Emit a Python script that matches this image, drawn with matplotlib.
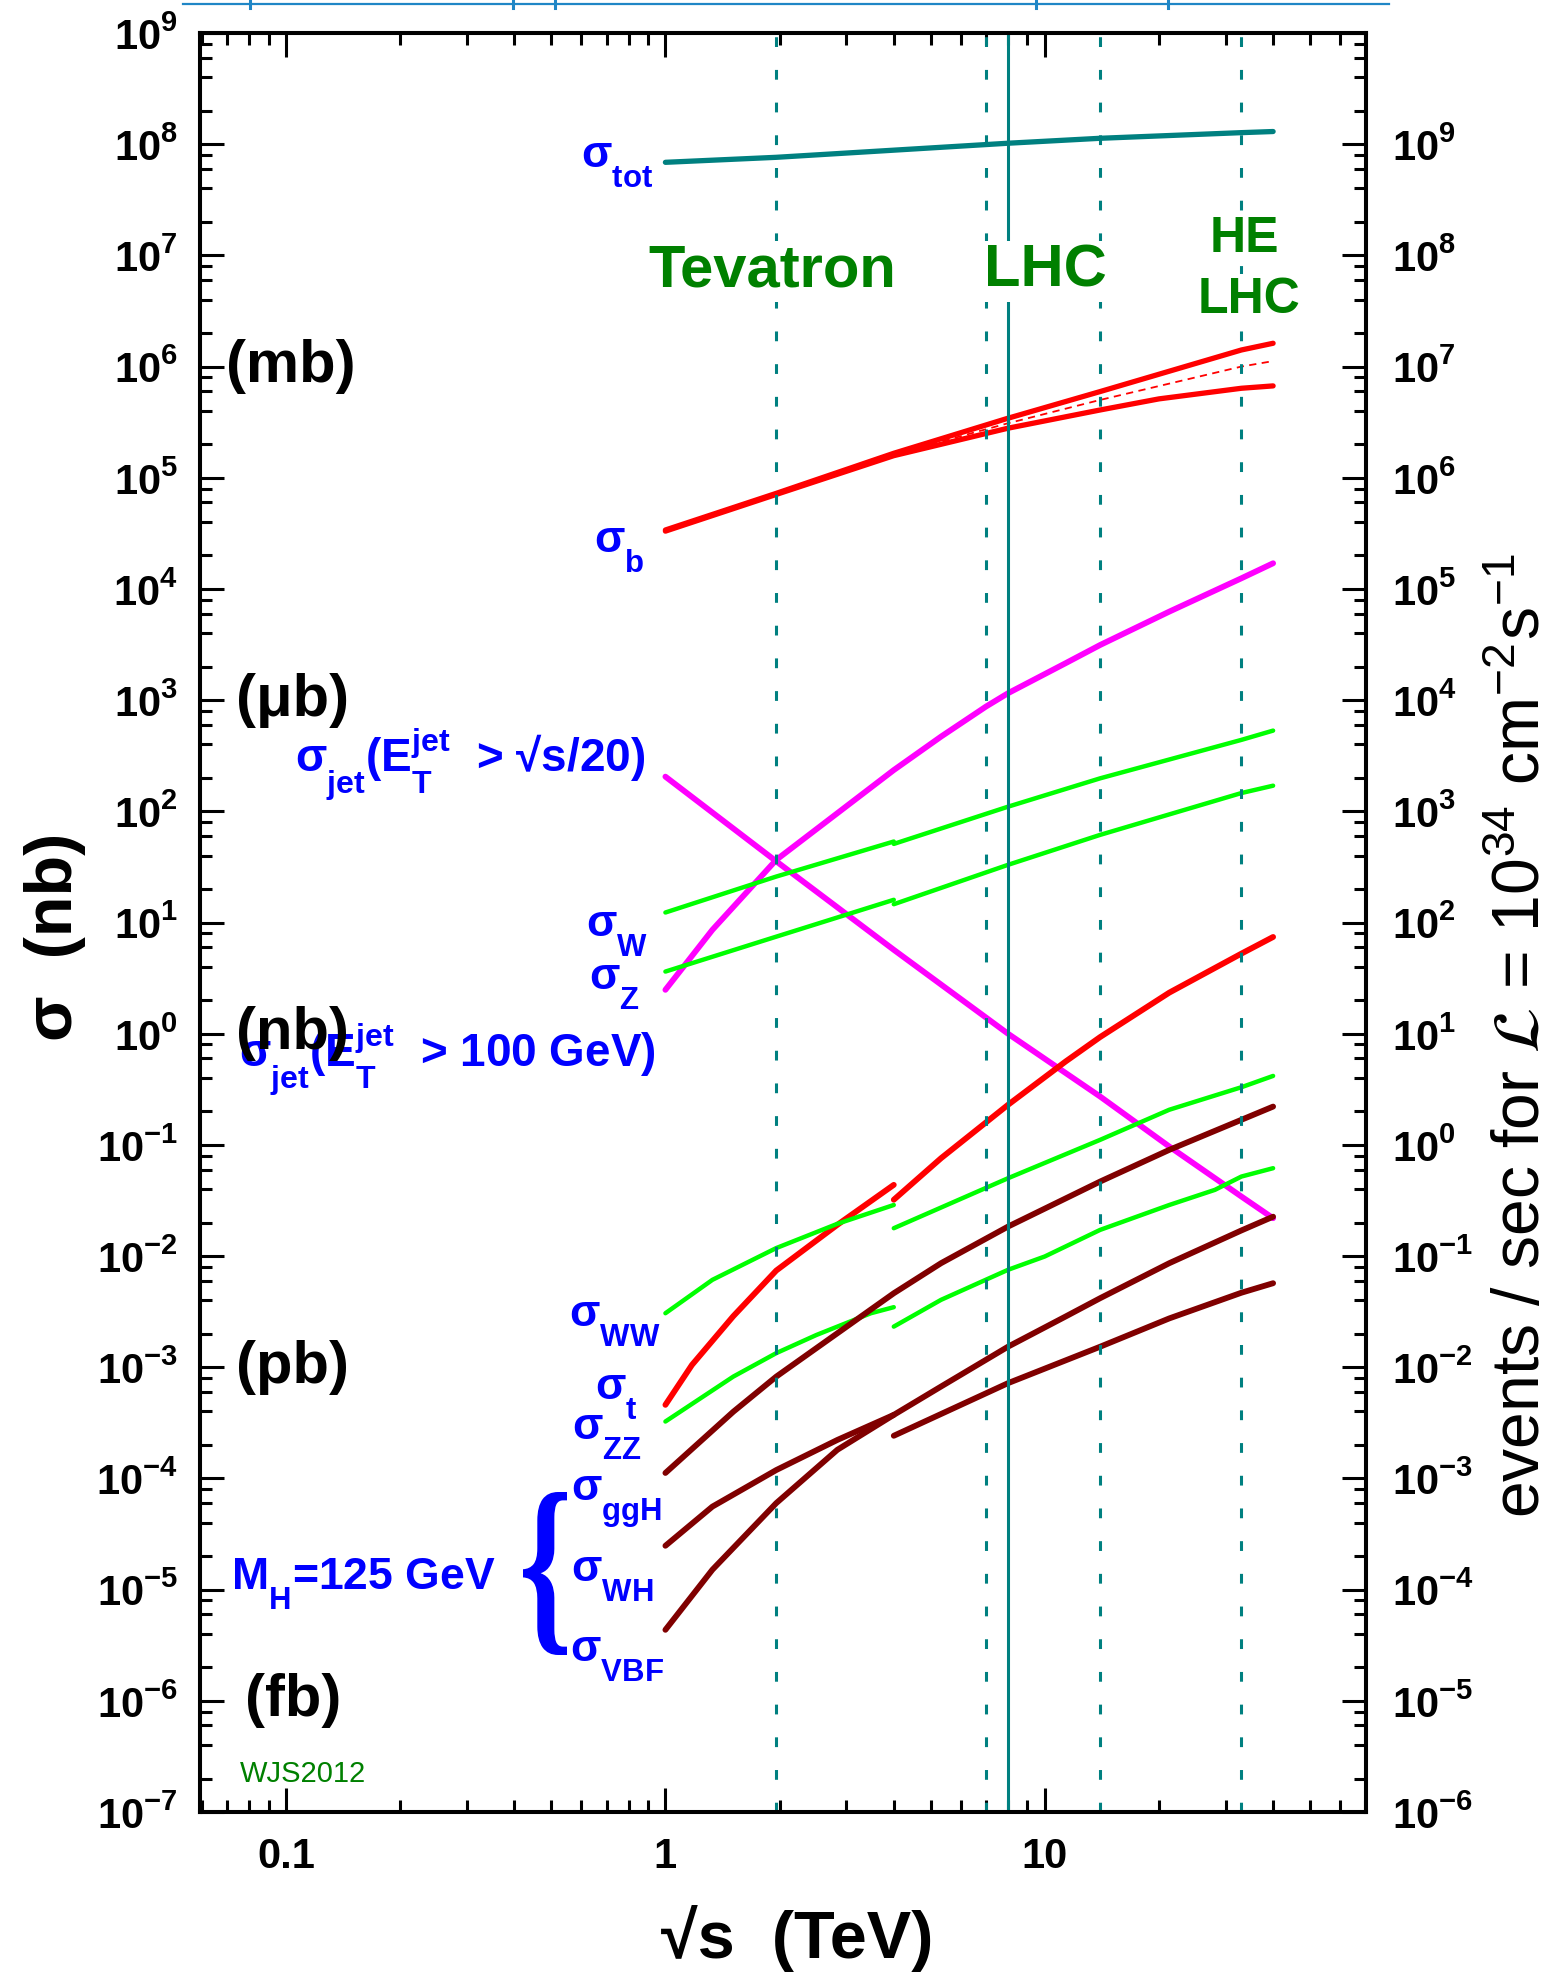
import numpy as np
import matplotlib
matplotlib.use("Agg")
import matplotlib.pyplot as plt
from matplotlib.ticker import LogLocator, NullFormatter
from matplotlib.textpath import TextPath
from matplotlib.patches import PathPatch
from matplotlib.font_manager import FontProperties
from matplotlib.transforms import Affine2D
from matplotlib.lines import Line2D

try:
    import matplotlib._mathtext as _mt
    _mt.FontConstantsBase.sub1 = 0.85
    _mt.FontConstantsBase.sub2 = 0.85
    _mt.FontConstantsBase.sup1 = 0.8
except Exception:
    pass

FONT = ['Liberation Sans', 'DejaVu Sans']
plt.rcParams['font.family'] = FONT
plt.rcParams['mathtext.fontset'] = 'stix'

# ---------------- data (sqrt(s) in TeV, sigma in nb) ----------------
E_tot = [1, 1.96, 8, 14, 33, 40]
sig_tot = [6.87e7, 7.62e7, 1.02e8, 1.13e8, 1.27e8, 1.30e8]

E_b_up = [1, 1.96, 4, 8, 14, 33, 40]
sig_b_up = [3.39e4, 7.24e4, 1.66e5, 3.43e5, 5.96e5, 1.41e6, 1.62e6]
E_b_lo = [1, 1.96, 4, 8, 14, 20, 33, 40]
sig_b_lo = [3.31e4, 7.08e4, 1.58e5, 2.79e5, 4.07e5, 5.12e5, 6.38e5, 6.70e5]
E_b_mid = [4, 8, 14, 33, 40]
sig_b_mid = [1.62e5, 3.09e5, 5.01e5, 1.0e6, 1.12e6]

E_jet100 = [1, 1.33, 1.96, 2.84, 4, 5.33, 7, 8, 11.35, 14, 21.3, 33, 40]
sig_jet100 = [2.48, 8.59, 36.6, 96.2, 235, 470, 875, 1153, 2148, 3133, 6252, 12470, 17020]

E_jet20 = [1, 1.96, 4, 8, 14, 21.3, 33, 40]
sig_jet20 = [205, 35.5, 5.68, 1.0, 0.272, 0.0966, 0.0343, 0.0219]

E_ppbar_W = [1, 1.96, 4]
sig_W_ppbar = [12.3, 25.9, 53.5]
sig_Z_ppbar = [3.62, 7.46, 16.0]
E_pp_W = [4, 8, 14, 33, 40]
sig_W_pp = [50.9, 110, 198, 439, 532]
sig_Z_pp = [14.6, 33.0, 61.4, 146, 170]

E_t_ppbar = [1, 1.175, 1.51, 1.96, 2.84, 4]
sig_t_ppbar = [4.59e-4, 1.05e-3, 2.88e-3, 7.41e-3, 1.91e-2, 4.37e-2]
E_t_pp = [4, 5.33, 8, 11.35, 14, 21.3, 33, 40]
sig_t_pp = [0.0321, 0.0759, 0.229, 0.562, 0.933, 2.34, 5.25, 7.41]

E_WW_ppbar = [1, 1.33, 1.96, 2.84, 4]
sig_WW_ppbar = [3.06e-3, 6.11e-3, 1.18e-2, 1.95e-2, 2.88e-2]
E_WW_pp = [4, 8, 14, 21.3, 33, 40]
sig_WW_pp = [0.0178, 0.0501, 0.111, 0.207, 0.330, 0.417]

E_ZZ_ppbar = [1, 1.51, 1.96, 2.5, 3.48, 4]
sig_ZZ_ppbar = [3.25e-4, 8.24e-4, 1.34e-3, 1.95e-3, 3.06e-3, 3.47e-3]
E_ZZ_pp = [4, 5.33, 8, 10, 14, 21.3, 28.1, 33, 40]
sig_ZZ_pp = [2.32e-3, 4.04e-3, 7.52e-3, 9.91e-3, 1.72e-2, 2.88e-2, 3.94e-2, 5.19e-2, 6.17e-2]

E_ggH = [1, 1.51, 1.96, 4, 5.33, 8, 14, 21.3, 40]
sig_ggH = [1.12e-4, 3.98e-4, 8.24e-4, 4.63e-3, 8.63e-3, 1.84e-2, 4.68e-2, 9.02e-2, 0.221]

E_WH_ppbar = [1, 1.33, 1.96, 2.84, 4]
sig_WH_ppbar = [2.48e-5, 5.58e-5, 1.19e-4, 2.22e-4, 3.73e-4]
E_WH_pp = [4, 8, 14, 21.3, 33, 40]
sig_WH_pp = [2.42e-4, 7.19e-4, 1.53e-3, 2.75e-3, 4.68e-3, 5.70e-3]

E_VBF = [1, 1.33, 1.96, 2.84, 4, 5.33, 8, 11.35, 14, 21.3, 33, 40]
sig_VBF = [4.35e-6, 1.51e-5, 6.0e-5, 1.81e-4, 3.73e-4, 6.71e-4, 1.53e-3, 2.86e-3, 4.18e-3, 8.63e-3, 1.70e-2, 2.26e-2]

collider_dotted = [1.96, 7, 14, 33]
collider_solid = [8]

y_decades = list(range(-7, 10))
right_decades = list(range(-6, 10))
x_major = [0.1, 1, 10]
x_major_labels = ['0.1', '1', '10']

# ---------------- styles ----------------
TEAL = '#008080'
RED = '#ff0000'
MAG = '#ff00ff'
GRN = '#00ff00'
DRED = '#800000'
BLUE = '#0000ff'
DGRN = '#008000'

W, H = 1555, 1972
fig = plt.figure(figsize=(W / 100, H / 100), dpi=100)
ax = fig.add_axes([200 / W, (H - 1812) / H, 1166 / W, 1779 / H])
ax.set_xscale('log')
ax.set_yscale('log')
ax.set_xlim(0.0593, 70.3)
ax.set_ylim(1e-7, 1e9)

kw = dict(solid_capstyle='round', solid_joinstyle='round', zorder=3)
ax.plot(E_tot, sig_tot, color=TEAL, lw=3.8, **kw)
ax.plot(E_b_up, sig_b_up, color=RED, lw=3.8, **kw)
ax.plot(E_b_lo, sig_b_lo, color=RED, lw=3.8, **kw)
ax.plot(E_b_mid, sig_b_mid, color=RED, lw=1.3, ls=(0, (4, 3)), zorder=3)
ax.plot(E_jet100, sig_jet100, color=MAG, lw=4.2, **kw)
ax.plot(E_jet20, sig_jet20, color=MAG, lw=4.2, **kw)
ax.plot(E_ppbar_W, sig_W_ppbar, color=GRN, lw=3.2, **kw)
ax.plot(E_pp_W, sig_W_pp, color=GRN, lw=3.2, **kw)
ax.plot(E_ppbar_W, sig_Z_ppbar, color=GRN, lw=3.2, **kw)
ax.plot(E_pp_W, sig_Z_pp, color=GRN, lw=3.2, **kw)
ax.plot(E_t_ppbar, sig_t_ppbar, color=RED, lw=4.2, **kw)
ax.plot(E_t_pp, sig_t_pp, color=RED, lw=4.2, **kw)
ax.plot(E_WW_ppbar, sig_WW_ppbar, color=GRN, lw=3.2, **kw)
ax.plot(E_WW_pp, sig_WW_pp, color=GRN, lw=3.2, **kw)
ax.plot(E_ZZ_ppbar, sig_ZZ_ppbar, color=GRN, lw=3.2, **kw)
ax.plot(E_ZZ_pp, sig_ZZ_pp, color=GRN, lw=3.2, **kw)
ax.plot(E_ggH, sig_ggH, color=DRED, lw=4.2, **kw)
ax.plot(E_WH_ppbar, sig_WH_ppbar, color=DRED, lw=4.2, **kw)
ax.plot(E_WH_pp, sig_WH_pp, color=DRED, lw=4.2, **kw)
ax.plot(E_VBF, sig_VBF, color=DRED, lw=4.2, **kw)

for e in collider_dotted:
    ax.axvline(e, color=TEAL, lw=2.2, ls=(0, (3.2, 7.5)), zorder=4)
for e in collider_solid:
    ax.axvline(e, color=TEAL, lw=2.2, zorder=4)

# ---------------- axes styling ----------------
for sp in ax.spines.values():
    sp.set_linewidth(2.9)
ax.set_yticks([10.0 ** d for d in y_decades])
ax.set_yticklabels([r'$\mathregular{10^{%d}}$' % d for d in y_decades])
ax.yaxis.set_minor_locator(LogLocator(base=10, subs=(2, 4, 6, 8), numticks=100))
ax.yaxis.set_minor_formatter(NullFormatter())
ax.set_xticks(x_major)
ax.set_xticklabels(x_major_labels)
ax.xaxis.set_minor_locator(LogLocator(base=10, subs=np.arange(2, 10), numticks=100))
ax.xaxis.set_minor_formatter(NullFormatter())
ax.tick_params(which='both', direction='in', top=True, right=False, width=2.2)
ax.tick_params(which='major', length=17, labelsize=30)
ax.tick_params(which='minor', length=8.5)
ax.tick_params(axis='y', which='major', pad=16)
ax.tick_params(axis='x', which='major', pad=18)
for t in ax.get_xticklabels() + ax.get_yticklabels():
    t.set_fontweight('bold')

ax2 = ax.twinx()
ax2.set_yscale('log')
ax2.set_ylim(1e-6, 1e10)
ax2.set_yticks([10.0 ** d for d in right_decades + [10]])
ax2.set_yticklabels([r'$\mathregular{10^{%d}}$' % d for d in right_decades] + [''])
ax2.yaxis.set_minor_locator(LogLocator(base=10, subs=(2, 4, 6, 8), numticks=100))
ax2.yaxis.set_minor_formatter(NullFormatter())
ax2.tick_params(which='both', direction='in', width=2.2)
ax2.tick_params(which='major', length=17, labelsize=30, pad=19)
ax2.tick_params(which='minor', length=8.5)
for t in ax2.get_yticklabels():
    t.set_fontweight('bold')
for sp in ax2.spines.values():
    sp.set_linewidth(2.9)

# ---------------- labels ----------------
fig.text(72 / W, 1 - 937 / H, 'σ  (nb)', rotation=90, rotation_mode='anchor',
         ha='center', va='baseline', fontsize=48, fontweight='bold')
fig.text(797 / W, (H - 1958) / H, '√s  (TeV)', ha='center', va='baseline',
         fontsize=48, fontweight='bold')
fig.text(1540 / W, 1 - 1036 / H,
         r'events / sec for $\mathcal{L}$ = 10$^{\mathregular{34}}$ cm$^{\mathregular{-2}}$s$^{\mathregular{-1}}$',
         rotation=90, rotation_mode='anchor', ha='center', va='baseline', fontsize=47.5)

box = dict(facecolor='white', edgecolor='none', pad=2)
ax.text(1.916, 10 ** 6.716, 'Tevatron', color=DGRN, fontsize=43, fontweight='bold',
        ha='center', va='baseline', bbox=box, zorder=6)
ax.text(10.06, 10 ** 6.716, 'LHC', color=DGRN, fontsize=43, fontweight='bold',
        ha='center', va='baseline', bbox=box, zorder=6)
ax.text(33.7, 10 ** 7.031, 'HE', color=DGRN, fontsize=36, fontweight='bold',
        ha='center', va='baseline', bbox=box, zorder=6)
ax.text(34.6, 10 ** 6.482, 'LHC', color=DGRN, fontsize=36, fontweight='bold',
        ha='center', va='baseline', bbox=box, zorder=6)

def blab(x, logy, s, size=32):
    ax.text(x, 10 ** logy, s, color=BLUE, fontsize=size, fontweight='bold',
            ha='right', va='baseline', zorder=5)

blab(0.93, 7.786, r'$\mathregular{σ_{tot}}$')
blab(0.88, 4.324, r'$\mathregular{σ_{b}}$')
blab(0.886, 2.345, r'$\mathregular{σ_{jet}(E_T^{jet}}$  > √s/20)', size=33)
blab(0.94, -0.308, r'$\mathregular{σ_{jet}(E_T^{jet}}$  > 100 GeV)', size=33)
blab(0.90, 0.871, r'$\mathregular{σ_{W}}$')
blab(0.859, 0.394, r'$\mathregular{σ_{Z}}$')
blab(0.97, -2.637, r'$\mathregular{σ_{WW}}$')
blab(0.844, -3.293, r'$\mathregular{σ_{t}}$')
blab(0.87, -3.653, r'$\mathregular{σ_{ZZ}}$')
blab(0.98, -4.21, r'$\mathregular{σ_{ggH}}$')
blab(0.93, -4.93, r'$\mathregular{σ_{WH}}$')
blab(0.99, -5.649, r'$\mathregular{σ_{VBF}}$')
blab(0.356, -5.002, r'$\mathregular{M_H}$=125 GeV', size=32)

for lab, logy, x in [('(mb)', 6, 0.0695), ('(μb)', 3, 0.0737), ('(nb)', 0, 0.0737),
                     ('(pb)', -3, 0.0737), ('(fb)', -6, 0.078)]:
    ax.text(x, 10 ** logy, lab, color='black', fontsize=43, fontweight='bold',
            ha='left', va='center', zorder=6)

ax.text(0.0755, 10 ** -6.729, 'WJS2012', color=DGRN, fontsize=21, ha='left', va='baseline')

# brace
tp = TextPath((0, 0), '{', size=100, prop=FontProperties(family='Liberation Serif', weight='bold'))
ext = tp.get_extents()
tr = (Affine2D().translate(-ext.x0, -ext.y0)
      .scale((44 / W) / ext.width, (163 / H) / ext.height)
      .translate(523 / W, (H - 1655) / H))
brace = PathPatch(tr.transform_path(tp), facecolor=BLUE, edgecolor='none',
                  transform=fig.transFigure)
fig.add_artist(brace)

# thin blue line at the very top (page artifact)
fig.add_artist(Line2D([183 / W, 1389 / W], [1 - 4 / H, 1 - 4 / H], transform=fig.transFigure,
                      color='#1f86c6', lw=1.6))
for px in [250, 513, 555, 1036, 1168]:
    fig.add_artist(Line2D([px / W, px / W], [1 - 8 / H, 1.0], transform=fig.transFigure,
                          color='#1f86c6', lw=2.2))

fig.savefig('out.png', dpi=100)
